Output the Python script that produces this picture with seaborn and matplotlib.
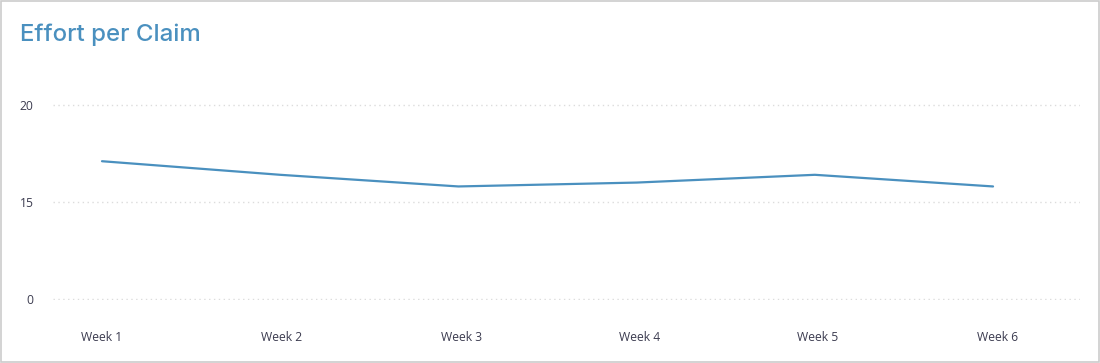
import numpy as np
import pandas as pd
import matplotlib
matplotlib.use("Agg")
import matplotlib.pyplot as plt
import matplotlib.transforms as mtransforms
import seaborn as sns

weeks = ["Week 1", "Week 2", "Week 3", "Week 4", "Week 5", "Week 6"]
effort = [17.1, 16.4, 15.8, 16.0, 16.4, 15.8]
y_ticks = [0, 15, 20]

sns.set_theme(style="white")
plt.rcParams['font.family'] = ['Open Sans', 'DejaVu Sans']

df = pd.DataFrame({"week": weeks, "effort": effort})

fig = plt.figure(figsize=(11, 3.63), dpi=100)
ax = fig.add_axes([53/1100, 1 - 300.3/363, (1080-53)/1100, (300.3-103)/363])

def fwd(y):
    y = np.asarray(y, dtype=float)
    return np.where(y <= 15, y / 15.0, 1 + (y - 15) / 5.0)

def inv(t):
    t = np.asarray(t, dtype=float)
    return np.where(t <= 1, t * 15.0, 15 + (t - 1) * 5.0)

ax.set_yscale('function', functions=(fwd, inv))

sns.lineplot(data=df, x="week", y="effort", ax=ax, color="#4a90bf", linewidth=1.6, sort=False)

ax.set_xlim(-0.275, 5.488)
ax.set_ylim(-0.2, 20.1)
ax.set_yticks(y_ticks)
ax.set_yticklabels([str(v) for v in y_ticks])
ax.set_xlabel("")
ax.set_ylabel("")
for s in ax.spines.values():
    s.set_visible(False)
ax.grid(axis='y', linestyle=(0, (1, 2.5)), color="#dcdcdc", linewidth=1)
ax.grid(axis='x', visible=False)
ax.tick_params(axis='both', length=0, labelsize=8.7, colors="#3b3b4f")
ax.tick_params(axis='y', pad=14)
ax.tick_params(axis='x', pad=22)

# small horizontal nudges of the x labels as in the reference
shifts_px = [0, 1, 3, 3, 3, 5]
for lbl, dx in zip(ax.get_xticklabels(), shifts_px):
    lbl.set_transform(lbl.get_transform() + mtransforms.ScaledTranslation(dx / 100, 0, fig.dpi_scale_trans))

fig.text(20/1100, 1 - 35/363, "Effort per Claim", fontsize=17.3, color="#4a90bf",
         ha='left', va='center', family=['Inter', 'DejaVu Sans'], weight='medium')

border = plt.Rectangle((0.0005, 0.0015), 0.999, 0.997, transform=fig.transFigure,
                       fill=False, edgecolor="#cccccc", linewidth=1.2)
fig.patches.append(border)

fig.savefig("out.png", dpi=100)
